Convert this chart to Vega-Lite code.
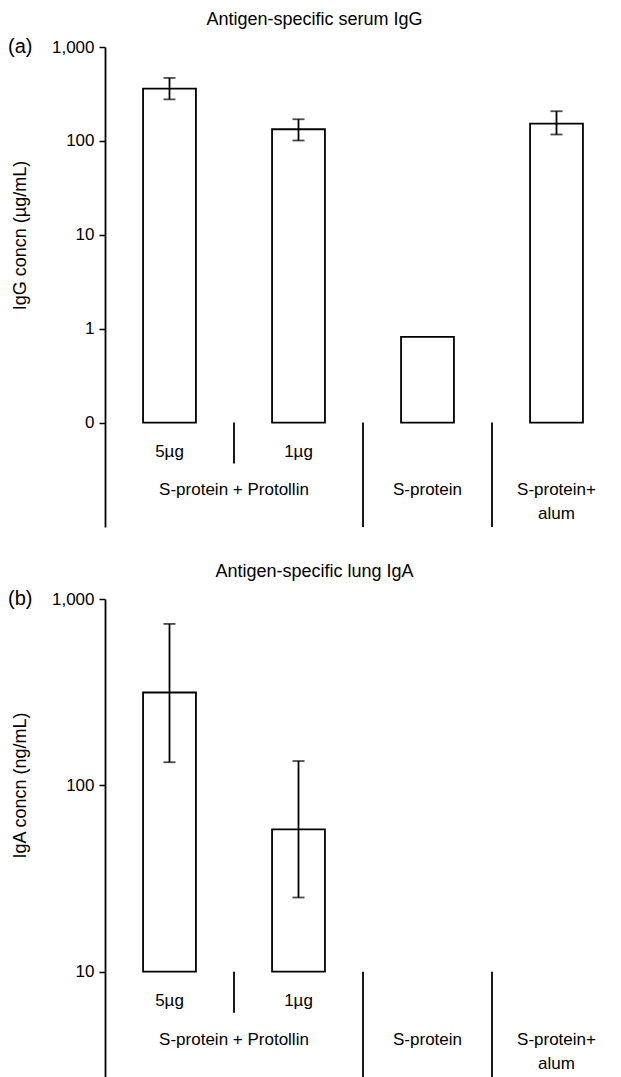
{
  "$schema": "https://vega.github.io/schema/vega-lite/v6.json",
  "padding": {"left": 8, "top": 11, "right": 0, "bottom": 0},
  "background": "white",
  "spacing": 35,
  "config": {
    "view": {"stroke": null},
    "font": "Liberation Sans",
    "text": {"font": "Liberation Sans", "color": "black"},
    "axis": {"labelFont": "Liberation Sans", "titleFont": "Liberation Sans"}
  },
  "datasets": {
    "igg": [
      {"cat": "5µg", "v": 361, "lo": 277, "hi": 468},
      {"cat": "1µg", "v": 133, "lo": 101, "hi": 170},
      {"cat": "S-protein", "v": 0.82},
      {"cat": "alum", "v": 153, "lo": 117, "hi": 207}
    ],
    "iga": [
      {"cat": "5µg", "v": 315, "lo": 133, "hi": 735},
      {"cat": "1µg", "v": 58, "lo": 25, "hi": 135}
    ],
    "divs": [
      {"cat": "1µg", "kind": "short"},
      {"cat": "S-protein", "kind": "long"},
      {"cat": "alum", "kind": "long"}
    ],
    "sub": [{"cat": "5µg"}, {"cat": "1µg"}],
    "grp": [
      {"cat": "S-protein", "label": "S-protein"},
      {"cat": "alum", "label": "S-protein+\nalum"}
    ],
    "prot": [{"cat": "1µg", "label": "S-protein + Protollin"}],
    "tagA": [{"cat": "5µg", "t": "(a)"}],
    "tagB": [{"cat": "5µg", "t": "(b)"}]
  },
  "vconcat": [
    {
      "title": {"text": "Antigen-specific serum IgG", "fontSize": 18, "fontWeight": "normal", "font": "Liberation Sans", "anchor": "middle", "frame": "bounds", "offset": 8, "color": "black"},
      "width": 516,
      "height": 480,
      "layer": [
        {
          "data": {"name": "igg"},
          "mark": {"type": "bar", "fill": "white", "stroke": "black", "strokeWidth": 1.8, "width": {"band": 0.41}},
          "encoding": {
            "x": {"field": "cat", "type": "nominal", "scale": {"domain": ["5µg", "1µg", "S-protein", "alum"], "paddingInner": 0, "paddingOuter": 0}, "axis": null},
            "y": {"field": "v", "type": "quantitative", "scale": {"type": "log", "domain": [0.00773, 1000], "nice": false},
              "axis": {"title": "IgG concn (µg/mL)", "values": [0.1, 1, 10, 100, 1000], "labelExpr": "datum.value < 0.5 ? '0' : format(datum.value, ',')", "grid": false, "domainColor": "black", "domainWidth": 1.8, "tickColor": "black", "tickWidth": 1.5, "tickSize": 6, "labelPadding": 5, "labelFontSize": 17, "labelColor": "black", "titleFontSize": 18, "titleFontWeight": "normal", "titleColor": "black", "titleAngle": -90, "titleX": -85, "titleY": 188, "titleBaseline": "middle", "titleAlign": "center"}},
            "y2": {"datum": 0.1}
          }
        },
        {
          "data": {"name": "igg"},
          "transform": [{"filter": "isValid(datum.lo)"}],
          "mark": {"type": "rule", "color": "black", "strokeWidth": 1.8},
          "encoding": {"x": {"field": "cat", "type": "nominal"}, "y": {"field": "lo", "type": "quantitative"}, "y2": {"field": "hi"}}
        },
        {
          "data": {"name": "igg"},
          "transform": [{"filter": "isValid(datum.lo)"}],
          "mark": {"type": "tick", "color": "black", "size": 12, "thickness": 1.8},
          "encoding": {"x": {"field": "cat", "type": "nominal"}, "y": {"field": "lo", "type": "quantitative"}}
        },
        {
          "data": {"name": "igg"},
          "transform": [{"filter": "isValid(datum.hi)"}],
          "mark": {"type": "tick", "color": "black", "size": 12, "thickness": 1.8},
          "encoding": {"x": {"field": "cat", "type": "nominal"}, "y": {"field": "hi", "type": "quantitative"}}
        },
        {
          "mark": {"type": "rule", "color": "#999999", "strokeWidth": 1.5},
          "encoding": {"y": {"datum": 1000}}
        },
        {
          "mark": {"type": "rule", "color": "black", "strokeWidth": 1.8},
          "encoding": {"y": {"datum": 0.1}}
        },
        {
          "data": {"name": "divs"},
          "transform": [{"filter": "datum.kind == 'short'"}],
          "mark": {"type": "rule", "color": "black", "strokeWidth": 1.8},
          "encoding": {"x": {"field": "cat", "type": "nominal", "bandPosition": 0}, "y": {"datum": 0.1}, "y2": {"datum": 0.0366}}
        },
        {
          "data": {"name": "divs"},
          "transform": [{"filter": "datum.kind == 'long'"}],
          "mark": {"type": "rule", "color": "black", "strokeWidth": 1.8},
          "encoding": {"x": {"field": "cat", "type": "nominal", "bandPosition": 0}, "y": {"datum": 0.1}, "y2": {"datum": 0.00773}}
        },
        {
          "data": {"name": "sub"},
          "mark": {"type": "text", "fontSize": 17, "baseline": "alphabetic", "align": "center", "dy": 34},
          "encoding": {"x": {"field": "cat", "type": "nominal"}, "y": {"datum": 0.1}, "text": {"field": "cat"}}
        },
        {
          "data": {"name": "prot"},
          "mark": {"type": "text", "fontSize": 17, "baseline": "alphabetic", "align": "center", "dy": 72},
          "encoding": {"x": {"field": "cat", "type": "nominal", "bandPosition": 0}, "y": {"datum": 0.1}, "text": {"field": "label"}}
        },
        {
          "data": {"name": "grp"},
          "mark": {"type": "text", "fontSize": 17, "baseline": "alphabetic", "align": "center", "dy": 72, "lineBreak": "\n", "lineHeight": 24},
          "encoding": {"x": {"field": "cat", "type": "nominal"}, "y": {"datum": 0.1}, "text": {"field": "label"}}
        },
        {
          "data": {"name": "tagA"},
          "mark": {"type": "text", "fontSize": 20, "baseline": "middle", "align": "left", "dx": -97},
          "encoding": {"x": {"field": "cat", "type": "nominal", "bandPosition": 0}, "y": {"datum": 1000}, "text": {"field": "t"}}
        }
      ]
    },
    {
      "title": {"text": "Antigen-specific lung IgA", "fontSize": 18, "fontWeight": "normal", "font": "Liberation Sans", "anchor": "middle", "frame": "bounds", "offset": 8, "color": "black"},
      "width": 516,
      "height": 478,
      "layer": [
        {
          "data": {"name": "iga"},
          "mark": {"type": "bar", "fill": "white", "stroke": "black", "strokeWidth": 1.8, "width": {"band": 0.41}},
          "encoding": {
            "x": {"field": "cat", "type": "nominal", "scale": {"domain": ["5µg", "1µg", "S-protein", "alum"], "paddingInner": 0, "paddingOuter": 0}, "axis": null},
            "y": {"field": "v", "type": "quantitative", "scale": {"type": "log", "domain": [2.72, 1000], "nice": false},
              "axis": {"title": "IgA concn (ng/mL)", "values": [10, 100, 1000], "labelExpr": "format(datum.value, ',')", "grid": false, "domainColor": "black", "domainWidth": 1.8, "tickColor": "black", "tickWidth": 1.5, "tickSize": 6, "labelPadding": 5, "labelFontSize": 17, "labelColor": "black", "titleFontSize": 18, "titleFontWeight": "normal", "titleColor": "black", "titleAngle": -90, "titleX": -85, "titleY": 186, "titleBaseline": "middle", "titleAlign": "center"}},
            "y2": {"datum": 10}
          }
        },
        {
          "data": {"name": "iga"},
          "mark": {"type": "rule", "color": "black", "strokeWidth": 1.8},
          "encoding": {"x": {"field": "cat", "type": "nominal"}, "y": {"field": "lo", "type": "quantitative"}, "y2": {"field": "hi"}}
        },
        {
          "data": {"name": "iga"},
          "mark": {"type": "tick", "color": "black", "size": 12, "thickness": 1.8},
          "encoding": {"x": {"field": "cat", "type": "nominal"}, "y": {"field": "lo", "type": "quantitative"}}
        },
        {
          "data": {"name": "iga"},
          "mark": {"type": "tick", "color": "black", "size": 12, "thickness": 1.8},
          "encoding": {"x": {"field": "cat", "type": "nominal"}, "y": {"field": "hi", "type": "quantitative"}}
        },
        {
          "mark": {"type": "rule", "color": "#999999", "strokeWidth": 1.5},
          "encoding": {"y": {"datum": 1000}}
        },
        {
          "mark": {"type": "rule", "color": "black", "strokeWidth": 1.8},
          "encoding": {"y": {"datum": 10}}
        },
        {
          "data": {"name": "divs"},
          "transform": [{"filter": "datum.kind == 'short'"}],
          "mark": {"type": "rule", "color": "black", "strokeWidth": 1.8},
          "encoding": {"x": {"field": "cat", "type": "nominal", "bandPosition": 0}, "y": {"datum": 10}, "y2": {"datum": 6.02}}
        },
        {
          "data": {"name": "divs"},
          "transform": [{"filter": "datum.kind == 'long'"}],
          "mark": {"type": "rule", "color": "black", "strokeWidth": 1.8},
          "encoding": {"x": {"field": "cat", "type": "nominal", "bandPosition": 0}, "y": {"datum": 10}, "y2": {"datum": 2.72}}
        },
        {
          "data": {"name": "sub"},
          "mark": {"type": "text", "fontSize": 17, "baseline": "alphabetic", "align": "center", "dy": 34},
          "encoding": {"x": {"field": "cat", "type": "nominal"}, "y": {"datum": 10}, "text": {"field": "cat"}}
        },
        {
          "data": {"name": "prot"},
          "mark": {"type": "text", "fontSize": 17, "baseline": "alphabetic", "align": "center", "dy": 73},
          "encoding": {"x": {"field": "cat", "type": "nominal", "bandPosition": 0}, "y": {"datum": 10}, "text": {"field": "label"}}
        },
        {
          "data": {"name": "grp"},
          "mark": {"type": "text", "fontSize": 17, "baseline": "alphabetic", "align": "center", "dy": 73, "lineBreak": "\n", "lineHeight": 24},
          "encoding": {"x": {"field": "cat", "type": "nominal"}, "y": {"datum": 10}, "text": {"field": "label"}}
        },
        {
          "data": {"name": "tagB"},
          "mark": {"type": "text", "fontSize": 20, "baseline": "middle", "align": "left", "dx": -97},
          "encoding": {"x": {"field": "cat", "type": "nominal", "bandPosition": 0}, "y": {"datum": 1000}, "text": {"field": "t"}}
        }
      ]
    }
  ]
}
